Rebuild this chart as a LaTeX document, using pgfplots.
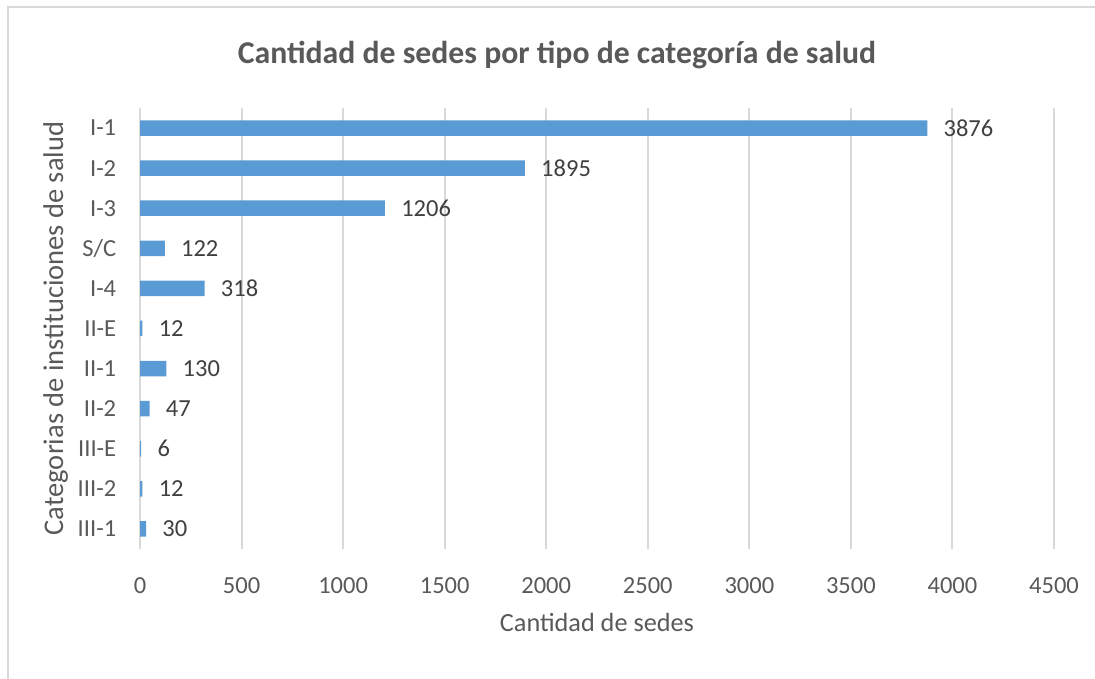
\documentclass[border=0pt]{standalone}
\usepackage{fontspec}
\setmainfont{Carlito}
\usepackage{pgfplots}
\pgfplotsset{compat=1.18}
\definecolor{barblue}{HTML}{5B9BD5}
\definecolor{txtgray}{HTML}{595959}
\definecolor{lblgray}{HTML}{404040}
\definecolor{gridgray}{HTML}{D9D9D9}
\begin{document}
\begin{tikzpicture}[x=0.4pt,y=0.4pt]
\useasboundingbox (0,0) rectangle (1095,679);
\draw[gridgray,line width=1pt] (8,-5) -- (8,672) -- (1100,672);
\node[font=\bfseries\fontsize{12.7}{15}\selectfont,text=txtgray] at (557,624) {Cantidad de sedes por tipo de categoría de salud};
\begin{axis}[
  at={(56pt,52pt)}, anchor=south west,
  scale only axis, width=365.6pt, height=176.4pt,
  xbar, bar width=6.2pt,
  xmin=0, xmax=4500,
  ymin=-0.5, ymax=10.5, y dir=reverse,
  xtick={0,500,...,4500},
  ytick={0,...,10},
  yticklabels={I-1,I-2,I-3,S/C,I-4,II-E,II-1,II-2,III-E,III-2,III-1},
  axis line style={draw=none},
  major tick length=0pt,
  xmajorgrids, grid style={gridgray,line width=0.8pt},
  tick label style={font=\fontsize{9.8}{11}\selectfont,text=txtgray},
  /pgf/number format/assume math mode=true,
  /pgf/number format/1000 sep={},
  xticklabel style={yshift=-8pt},
  yticklabel style={xshift=-6pt},
  xlabel={Cantidad de sedes},
  ylabel={Categorias de instituciones de salud},
  xlabel style={font=\fontsize{10.5}{12}\selectfont,text=txtgray,yshift=-1pt},
  ylabel style={font=\fontsize{11.4}{13}\selectfont,text=txtgray,yshift=-3pt},
  nodes near coords,
  nodes near coords style={font=\fontsize{9.8}{11}\selectfont,text=lblgray,xshift=3pt,/pgf/number format/assume math mode=true,/pgf/number format/1000 sep={}},
]
\addplot[fill=barblue,draw=none] coordinates {
(3876,0) (1895,1) (1206,2) (122,3) (318,4) (12,5) (130,6) (47,7) (6,8) (12,9) (30,10)
};
\end{axis}
\end{tikzpicture}
\end{document}
